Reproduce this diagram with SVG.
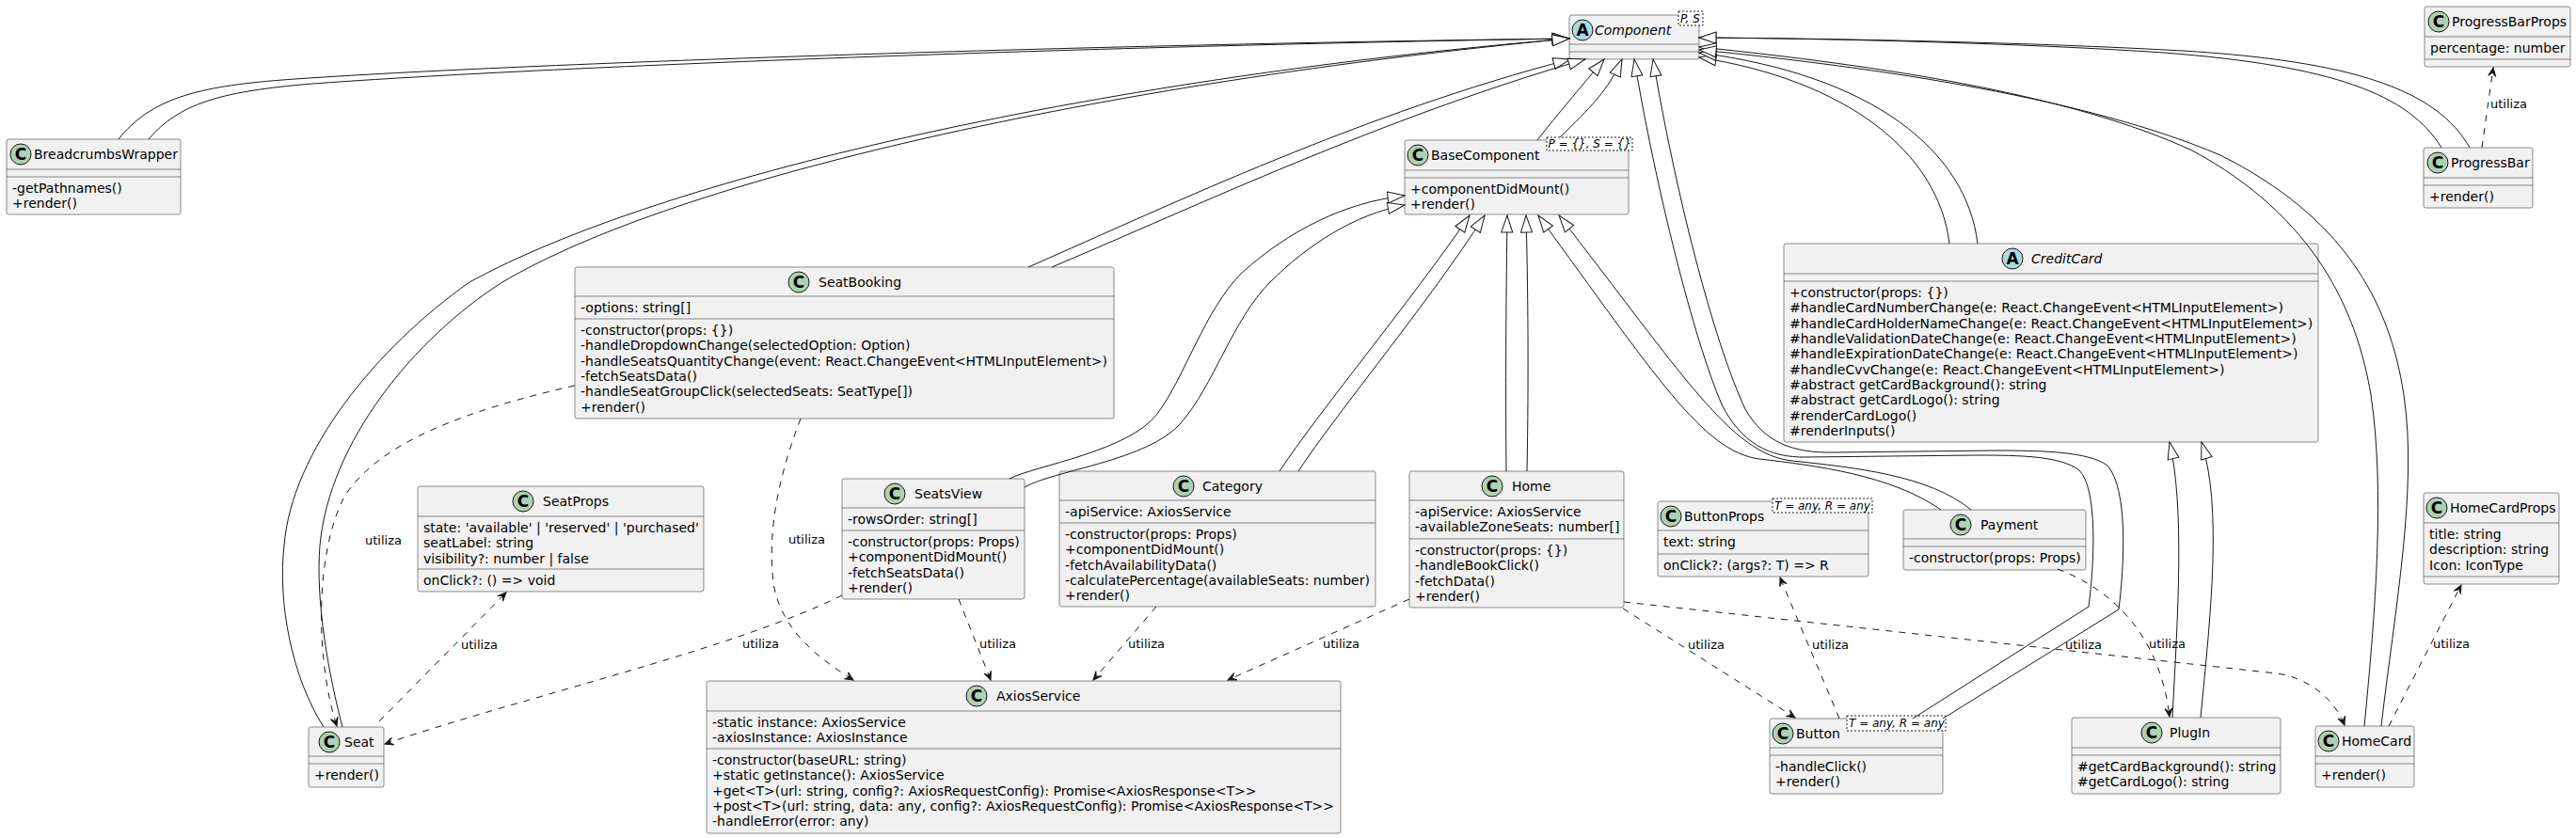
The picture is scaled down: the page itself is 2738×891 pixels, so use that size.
<svg xmlns="http://www.w3.org/2000/svg" width="2738" height="891" viewBox="0 0 2738 891">
<style>
.box{fill:#F1F1F1;stroke:#181818;stroke-width:0.5}
.sep{stroke:#181818;stroke-width:0.5}
.ic{stroke:#181818;stroke-width:1}
.icC{fill:#ADD1B2}
.icA{fill:#A9DCDF}
.il{font-family:"DejaVu Sans",sans-serif;font-size:17px;font-weight:bold;text-anchor:middle;fill:#000}
.t{font-family:"DejaVu Sans",sans-serif;font-size:14px;fill:#000}
.it{font-style:italic}
.tp{font-family:"DejaVu Sans",sans-serif;font-size:12px;font-style:italic;fill:#000}
.tpl{fill:#fff;stroke:#181818;stroke-width:1;stroke-dasharray:2,2}
.lb{font-family:"DejaVu Sans",sans-serif;font-size:13px;fill:#000}
.e{fill:none;stroke:#181818;stroke-width:1;marker-end:url(#tri)}
.d{fill:none;stroke:#181818;stroke-width:1;stroke-dasharray:7,7;marker-end:url(#arr)}
</style>
<defs>
<marker id="tri" markerUnits="userSpaceOnUse" markerWidth="20" markerHeight="14" refX="18" refY="7" orient="auto" overflow="visible"><path d="M0,1 L18,7 L0,13 Z" fill="#fff" stroke="#181818" stroke-width="1"/></marker>
<marker id="arr" markerUnits="userSpaceOnUse" markerWidth="12" markerHeight="10" refX="10" refY="5" orient="auto" overflow="visible"><path d="M1,1 L10,5 L1,9 L5,5 Z" fill="#181818" stroke="#181818" stroke-width="1"/></marker>
</defs>
<rect width="2738" height="891" fill="#fff"/>

<g id="Component">
<rect class="box" x="1668" y="16" width="138" height="47" rx="2.5"/>
<circle class="ic icA" cx="1682" cy="32" r="11"/><text class="il" x="1682" y="38">A</text>
<text class="t it" x="1695" y="37">Component</text>
<line class="sep" x1="1668" y1="47" x2="1806" y2="47"/>
<line class="sep" x1="1668" y1="55" x2="1806" y2="55"/>
<rect class="tpl" x="1784" y="12" width="26" height="15"/>
<text class="tp" x="1786" y="24">P, S</text>
</g>

<g id="BaseComponent">
<rect class="box" x="1493" y="149" width="238" height="79" rx="2.5"/>
<circle class="ic icC" cx="1507" cy="165" r="11"/><text class="il" x="1507" y="171">C</text>
<text class="t" x="1521" y="170">BaseComponent</text>
<line class="sep" x1="1493" y1="181" x2="1731" y2="181"/>
<line class="sep" x1="1493" y1="189" x2="1731" y2="189"/>
<text class="t" x="1499" y="206">+componentDidMount()</text>
<text class="t" x="1499" y="222.3">+render()</text>
<rect class="tpl" x="1644" y="146" width="91" height="14"/>
<text class="tp" x="1645.5" y="157">P = {}, S = {}</text>
</g>

<g id="BreadcrumbsWrapper">
<rect class="box" x="7" y="148" width="185" height="80" rx="2.5"/>
<circle class="ic icC" cx="22" cy="164" r="11"/><text class="il" x="22" y="170">C</text>
<text class="t" x="36" y="169">BreadcrumbsWrapper</text>
<line class="sep" x1="7" y1="180" x2="192" y2="180"/>
<line class="sep" x1="7" y1="188" x2="192" y2="188"/>
<text class="t" x="13" y="205">-getPathnames()</text>
<text class="t" x="13" y="221.3">+render()</text>
</g>

<g id="ProgressBarProps">
<rect class="box" x="2577" y="7" width="155" height="64" rx="2.5"/>
<circle class="ic icC" cx="2592" cy="23" r="11"/><text class="il" x="2592" y="29">C</text>
<text class="t" x="2606" y="28">ProgressBarProps</text>
<line class="sep" x1="2577" y1="39" x2="2732" y2="39"/>
<line class="sep" x1="2577" y1="63" x2="2732" y2="63"/>
<text class="t" x="2583" y="56">percentage: number</text>
</g>

<g id="ProgressBar">
<rect class="box" x="2576" y="157" width="116" height="64" rx="2.5"/>
<circle class="ic icC" cx="2591" cy="173" r="11"/><text class="il" x="2591" y="179">C</text>
<text class="t" x="2605" y="178">ProgressBar</text>
<line class="sep" x1="2576" y1="189" x2="2692" y2="189"/>
<line class="sep" x1="2576" y1="197" x2="2692" y2="197"/>
<text class="t" x="2582" y="214">+render()</text>
</g>

<g id="CreditCard">
<rect class="box" x="1896" y="259" width="568" height="211" rx="2.5"/>
<circle class="ic icA" cx="2139" cy="275" r="11"/><text class="il" x="2139" y="281">A</text>
<text class="t it" x="2159" y="280">CreditCard</text>
<line class="sep" x1="1896" y1="291" x2="2464" y2="291"/>
<line class="sep" x1="1896" y1="299" x2="2464" y2="299"/>
<text class="t" x="1902" y="316">+constructor(props: {})</text>
<text class="t" x="1902" y="332.3">#handleCardNumberChange(e: React.ChangeEvent&lt;HTMLInputElement&gt;)</text>
<text class="t" x="1902" y="348.7">#handleCardHolderNameChange(e: React.ChangeEvent&lt;HTMLInputElement&gt;)</text>
<text class="t" x="1902" y="365">#handleValidationDateChange(e: React.ChangeEvent&lt;HTMLInputElement&gt;)</text>
<text class="t" x="1902" y="381.3">#handleExpirationDateChange(e: React.ChangeEvent&lt;HTMLInputElement&gt;)</text>
<text class="t" x="1902" y="397.7">#handleCvvChange(e: React.ChangeEvent&lt;HTMLInputElement&gt;)</text>
<text class="t" x="1902" y="414">#abstract getCardBackground(): string</text>
<text class="t" x="1902" y="430.3">#abstract getCardLogo(): string</text>
<text class="t" x="1902" y="446.7">#renderCardLogo()</text>
<text class="t" x="1902" y="463">#renderInputs()</text>
</g>

<g id="SeatBooking">
<rect class="box" x="611" y="284" width="573" height="161" rx="2.5"/>
<circle class="ic icC" cx="849" cy="300" r="11"/><text class="il" x="849" y="306">C</text>
<text class="t" x="870" y="305">SeatBooking</text>
<line class="sep" x1="611" y1="315" x2="1184" y2="315"/>
<line class="sep" x1="611" y1="339" x2="1184" y2="339"/>
<text class="t" x="617" y="332">-options: string[]</text>
<text class="t" x="617" y="356">-constructor(props: {})</text>
<text class="t" x="617" y="372.3">-handleDropdownChange(selectedOption: Option)</text>
<text class="t" x="617" y="388.7">-handleSeatsQuantityChange(event: React.ChangeEvent&lt;HTMLInputElement&gt;)</text>
<text class="t" x="617" y="405">-fetchSeatsData()</text>
<text class="t" x="617" y="421.3">-handleSeatGroupClick(selectedSeats: SeatType[])</text>
<text class="t" x="617" y="437.7">+render()</text>
</g>

<g id="SeatsView">
<rect class="box" x="895" y="509" width="194" height="128" rx="2.5"/>
<circle class="ic icC" cx="951" cy="525" r="11"/><text class="il" x="951" y="531">C</text>
<text class="t" x="972" y="530">SeatsView</text>
<line class="sep" x1="895" y1="540" x2="1089" y2="540"/>
<line class="sep" x1="895" y1="564" x2="1089" y2="564"/>
<text class="t" x="901" y="557">-rowsOrder: string[]</text>
<text class="t" x="901" y="581">-constructor(props: Props)</text>
<text class="t" x="901" y="597.3">+componentDidMount()</text>
<text class="t" x="901" y="613.7">-fetchSeatsData()</text>
<text class="t" x="901" y="630">+render()</text>
</g>

<g id="Category">
<rect class="box" x="1126" y="501" width="336" height="144" rx="2.5"/>
<circle class="ic icC" cx="1258" cy="517" r="11"/><text class="il" x="1258" y="523">C</text>
<text class="t" x="1278" y="522">Category</text>
<line class="sep" x1="1126" y1="532" x2="1462" y2="532"/>
<line class="sep" x1="1126" y1="556" x2="1462" y2="556"/>
<text class="t" x="1132" y="549">-apiService: AxiosService</text>
<text class="t" x="1132" y="573">-constructor(props: Props)</text>
<text class="t" x="1132" y="589.3">+componentDidMount()</text>
<text class="t" x="1132" y="605.7">-fetchAvailabilityData()</text>
<text class="t" x="1132" y="622">-calculatePercentage(availableSeats: number)</text>
<text class="t" x="1132" y="638.3">+render()</text>
</g>

<g id="AxiosService">
<rect class="box" x="751" y="724" width="674" height="162" rx="2.5"/>
<circle class="ic icC" cx="1038" cy="740" r="11"/><text class="il" x="1038" y="746">C</text>
<text class="t" x="1059" y="745">AxiosService</text>
<line class="sep" x1="751" y1="756" x2="1425" y2="756"/>
<line class="sep" x1="751" y1="796" x2="1425" y2="796"/>
<text class="t" x="757" y="773">-static instance: AxiosService</text>
<text class="t" x="757" y="789.3">-axiosInstance: AxiosInstance</text>
<text class="t" x="757" y="813">-constructor(baseURL: string)</text>
<text class="t" x="757" y="829.3">+static getInstance(): AxiosService</text>
<text class="t" x="757" y="845.7">+get&lt;T&gt;(url: string, config?: AxiosRequestConfig): Promise&lt;AxiosResponse&lt;T&gt;&gt;</text>
<text class="t" x="757" y="862">+post&lt;T&gt;(url: string, data: any, config?: AxiosRequestConfig): Promise&lt;AxiosResponse&lt;T&gt;&gt;</text>
<text class="t" x="757" y="878.3">-handleError(error: any)</text>
</g>

<g id="Home">
<rect class="box" x="1498" y="501" width="228" height="145" rx="2.5"/>
<circle class="ic icC" cx="1586" cy="517" r="11"/><text class="il" x="1586" y="523">C</text>
<text class="t" x="1607" y="522">Home</text>
<line class="sep" x1="1498" y1="532" x2="1726" y2="532"/>
<line class="sep" x1="1498" y1="573" x2="1726" y2="573"/>
<text class="t" x="1504" y="549">-apiService: AxiosService</text>
<text class="t" x="1504" y="565.3">-availableZoneSeats: number[]</text>
<text class="t" x="1504" y="590">-constructor(props: {})</text>
<text class="t" x="1504" y="606.3">-handleBookClick()</text>
<text class="t" x="1504" y="622.7">-fetchData()</text>
<text class="t" x="1504" y="639">+render()</text>
</g>

<g id="ButtonProps">
<rect class="box" x="1762" y="533" width="224" height="80" rx="2.5"/>
<circle class="ic icC" cx="1776" cy="549" r="11"/><text class="il" x="1776" y="555">C</text>
<text class="t" x="1790" y="554">ButtonProps</text>
<line class="sep" x1="1762" y1="564" x2="1986" y2="564"/>
<line class="sep" x1="1762" y1="589" x2="1986" y2="589"/>
<text class="t" x="1768" y="581">text: string</text>
<text class="t" x="1768" y="606">onClick?: (args?: T) =&gt; R</text>
<rect class="tpl" x="1884" y="530" width="106" height="15"/>
<text class="tp" x="1886" y="541.5">T = any, R = any</text>
</g>

<g id="Payment">
<rect class="box" x="2023" y="542" width="194" height="64" rx="2.5"/>
<circle class="ic icC" cx="2084" cy="558" r="11"/><text class="il" x="2084" y="564">C</text>
<text class="t" x="2105" y="563">Payment</text>
<line class="sep" x1="2023" y1="573" x2="2217" y2="573"/>
<line class="sep" x1="2023" y1="581" x2="2217" y2="581"/>
<text class="t" x="2029" y="598">-constructor(props: Props)</text>
</g>

<g id="Button">
<rect class="box" x="1881" y="764" width="184" height="80" rx="2.5"/>
<circle class="ic icC" cx="1895" cy="780" r="11"/><text class="il" x="1895" y="786">C</text>
<text class="t" x="1909" y="785">Button</text>
<line class="sep" x1="1881" y1="795" x2="2065" y2="795"/>
<line class="sep" x1="1881" y1="803" x2="2065" y2="803"/>
<text class="t" x="1887" y="820">-handleClick()</text>
<text class="t" x="1887" y="836.3">+render()</text>
<rect class="tpl" x="1963" y="761" width="105" height="16"/>
<text class="tp" x="1965" y="773">T = any, R = any</text>
</g>

<g id="PlugIn">
<rect class="box" x="2202" y="763" width="222" height="81" rx="2.5"/>
<circle class="ic icC" cx="2287" cy="779" r="11"/><text class="il" x="2287" y="785">C</text>
<text class="t" x="2306" y="784">PlugIn</text>
<line class="sep" x1="2202" y1="795" x2="2424" y2="795"/>
<line class="sep" x1="2202" y1="803" x2="2424" y2="803"/>
<text class="t" x="2208" y="820">#getCardBackground(): string</text>
<text class="t" x="2208" y="836.3">#getCardLogo(): string</text>
</g>

<g id="HomeCard">
<rect class="box" x="2461" y="772" width="105" height="65" rx="2.5"/>
<circle class="ic icC" cx="2475" cy="788" r="11"/><text class="il" x="2475" y="794">C</text>
<text class="t" x="2489" y="793">HomeCard</text>
<line class="sep" x1="2461" y1="804" x2="2566" y2="804"/>
<line class="sep" x1="2461" y1="812" x2="2566" y2="812"/>
<text class="t" x="2467" y="829">+render()</text>
</g>

<g id="HomeCardProps">
<rect class="box" x="2576" y="524" width="144" height="97" rx="2.5"/>
<circle class="ic icC" cx="2590" cy="540" r="11"/><text class="il" x="2590" y="546">C</text>
<text class="t" x="2604" y="545">HomeCardProps</text>
<line class="sep" x1="2576" y1="556" x2="2720" y2="556"/>
<line class="sep" x1="2576" y1="613" x2="2720" y2="613"/>
<text class="t" x="2582" y="573">title: string</text>
<text class="t" x="2582" y="589.3">description: string</text>
<text class="t" x="2582" y="605.7">Icon: IconType</text>
</g>

<g id="SeatProps">
<rect class="box" x="444" y="517" width="304" height="112" rx="2.5"/>
<circle class="ic icC" cx="556" cy="533" r="11"/><text class="il" x="556" y="539">C</text>
<text class="t" x="577" y="538">SeatProps</text>
<line class="sep" x1="444" y1="549" x2="748" y2="549"/>
<line class="sep" x1="444" y1="605" x2="748" y2="605"/>
<text class="t" x="450" y="566">state: 'available' | 'reserved' | 'purchased'</text>
<text class="t" x="450" y="582.3">seatLabel: string</text>
<text class="t" x="450" y="598.7">visibility?: number | false</text>
<text class="t" x="450" y="622">onClick?: () =&gt; void</text>
</g>

<g id="Seat">
<rect class="box" x="328" y="773" width="80" height="64" rx="2.5"/>
<circle class="ic icC" cx="350" cy="789" r="11"/><text class="il" x="350" y="795">C</text>
<text class="t" x="366" y="794">Seat</text>
<line class="sep" x1="328" y1="804" x2="408" y2="804"/>
<line class="sep" x1="328" y1="812" x2="408" y2="812"/>
<text class="t" x="334" y="829">+render()</text>
</g>

<g id="connectors">
<!-- inheritance -->
<path class="e" d="M126,148 C160,105 210,92 300,85 C500,70 1100,48 1668,41"/>
<path class="e" d="M158,148 C190,110 235,98 320,90 C520,74 1100,50 1668,41"/>
<path class="e" d="M344,773 C310,720 295,640 302,580 C310,480 400,370 499,300 C700,190 1150,85 1668,41"/>
<path class="e" d="M364,773 C350,720 335,640 340,580 C350,470 440,360 534,300 C720,190 1170,88 1668,41"/>
<path class="e" d="M1093,284 C1250,215 1450,120 1669,63"/>
<path class="e" d="M1118,284 C1270,220 1470,125 1685,63"/>
<path class="e" d="M1634,149 C1655,122 1680,93 1705,63"/>
<path class="e" d="M1658,146 C1690,115 1710,95 1724,63"/>
<path class="e" d="M2595,157 C2560,100 2480,70 2300,56 C2150,46 1950,41 1806,40"/>
<path class="e" d="M2625,157 C2590,95 2500,65 2320,54 C2160,45 1950,41 1806,40"/>
<path class="e" d="M2072,259 C2060,160 1960,85 1806,61"/>
<path class="e" d="M2102,259 C2090,160 1990,80 1806,56"/>
<path class="e" d="M2513,772 C2525,650 2535,520 2520,420 C2505,330 2460,230 2330,160 C2200,100 2000,70 1806,50"/>
<path class="e" d="M2531,772 C2545,650 2570,520 2555,420 C2540,320 2490,230 2360,165 C2220,105 2000,72 1806,53"/>
<path class="e" d="M2033,764 L2220,645 C2226,600 2230,520 2210,500 C2190,485 2150,484 2100,484 L1920,486 C1880,487 1850,470 1830,430 C1800,360 1760,200 1737,63"/>
<path class="e" d="M2065,764 L2252,648 C2258,600 2262,520 2240,495 C2220,480 2170,479 2120,479 L1950,481 C1905,482 1875,470 1855,435 C1820,360 1780,200 1757,63"/>
<path class="e" d="M2309,763 C2315,650 2322,540 2306,470"/>
<path class="e" d="M2339,763 C2350,650 2362,540 2340,470"/>
<path class="e" d="M1073,509 C1100,495 1200,480 1230,440 C1260,400 1280,330 1320,290 C1370,245 1430,215 1493,208"/>
<path class="e" d="M1089,518 C1120,500 1220,490 1255,450 C1290,410 1310,340 1350,300 C1390,260 1440,228 1493,218"/>
<path class="e" d="M1360,501 C1400,440 1500,320 1562,229"/>
<path class="e" d="M1380,501 C1420,440 1520,320 1578,229"/>
<path class="e" d="M1601,501 C1600,400 1601,300 1602,229"/>
<path class="e" d="M1623,501 C1625,400 1624,300 1622,229"/>
<path class="e" d="M2063,542 C2010,505 1930,495 1870,488 C1810,480 1760,400 1635,229"/>
<path class="e" d="M2095,542 C2050,505 1970,497 1905,490 C1840,483 1790,400 1657,229"/>
<!-- dependencies -->
<path class="d" d="M611,410 C500,435 400,470 365,530 C335,590 335,700 358,772"/>
<path class="d" d="M851,445 C830,500 815,560 822,620 C830,670 870,700 907,723"/>
<path class="d" d="M895,633 C780,690 560,740 409,791"/>
<path class="d" d="M1019,637 L1053,723"/>
<path class="d" d="M1229,645 L1162,723"/>
<path class="d" d="M1498,637 L1305,723"/>
<path class="d" d="M1725,647 L1908,763"/>
<path class="d" d="M1955,764 L1892,614"/>
<path class="d" d="M1726,640 L2420,716 C2450,720 2480,740 2492,771"/>
<path class="d" d="M2187,605 C2240,625 2295,670 2306,762"/>
<path class="d" d="M2539,772 L2616,622"/>
<path class="d" d="M403,767 L538,630"/>
<path class="d" d="M2638,157 L2650,72"/>
<text class="lb" x="388" y="579">utiliza</text>
<text class="lb" x="838" y="578">utiliza</text>
<text class="lb" x="789" y="689">utiliza</text>
<text class="lb" x="1041" y="689">utiliza</text>
<text class="lb" x="1199" y="689">utiliza</text>
<text class="lb" x="1406" y="689">utiliza</text>
<text class="lb" x="1794" y="690">utiliza</text>
<text class="lb" x="1926" y="690">utiliza</text>
<text class="lb" x="2195" y="690">utiliza</text>
<text class="lb" x="2284" y="689">utiliza</text>
<text class="lb" x="2586" y="689">utiliza</text>
<text class="lb" x="490" y="690">utiliza</text>
<text class="lb" x="2647" y="115">utiliza</text>
</g>
</svg>
